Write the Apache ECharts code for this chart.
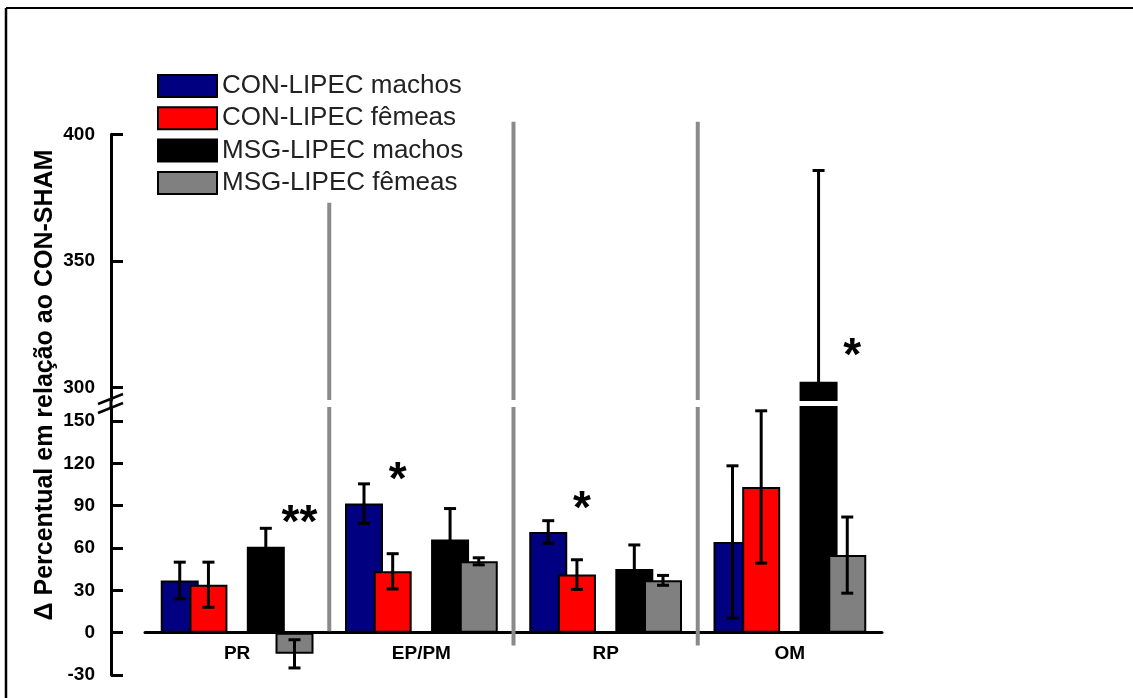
<!DOCTYPE html>
<html><head><meta charset="utf-8">
<script src="https://cdn.jsdelivr.net/npm/echarts@6/dist/echarts.min.js"></script>
<style>html,body{margin:0;padding:0;background:#fff}#c{width:1133px;height:698px}</style>
</head><body><div id="c"></div>
<script>
// ---- data ----
const categories = ['PR', 'EP/PM', 'RP', 'OM'];
const seriesNames = ['CON-LIPEC machos', 'CON-LIPEC fêmeas', 'MSG-LIPEC machos', 'MSG-LIPEC fêmeas'];
const conMachos = [37, 91.5, 71.4, 64.3];
const conMachosErr = [13, 14, 8, 54];
const conFemeas = [34, 43.5, 41.2, 103.3];
const conFemeasErr = [16, 12.5, 10.5, 54];
const msgMachos = [61, 66, 45.2, 302.2];
const msgMachosErr = [13, 22, 17, 83.5];
const msgFemeas = [-15, 50.6, 37.1, 55];
const msgFemeasErr = [10, 2.5, 3.5, 27];
const lowerTicks = [-30, 0, 30, 60, 90, 120, 150];
const upperTicks = [300, 350, 400];
const starCategory = ['PR', 'EP/PM', 'RP', 'OM'];
const starSeries = [3, 1, 1, 3];
const starValue = [83, 114, 93, 315.5];
const starText = ['**', '*', '*', '*'];
const sepTop = [373, 405, 405];     // upper-axis values
const sepBottom = [1, -9, -9];      // lower-axis values

// ---- layout / style ----
const LOWER_MIN = -30, LOWER_MAX = 160, UPPER_MIN = 295, UPPER_MAX = 400;
const BAR_W = 38, BAR_GAP = -0.245;
const PITCH = BAR_W * (1 + BAR_GAP);
const SLOT = [0, 1, 3, 4];
const colors = ['#000080', '#ff0000', '#000000', '#808080'];
const FONT = '"Liberation Sans", Arial, sans-serif';
const values = [conMachos, conFemeas, msgMachos, msgFemeas];
const errs = [conMachosErr, conFemeasErr, msgMachosErr, msgFemeasErr];

function slotOffset(s) { return (SLOT[s] - 2) * PITCH; }

const chart = echarts.init(document.getElementById('c'), null, {renderer: 'canvas'});

const grids = [
  {left: 145, right: 251, top: 407, bottom: 23, outerBoundsMode: 'none', containLabel: false},
  {left: 145, right: 251, top: 134.35, bottom: 298, outerBoundsMode: 'none', containLabel: false}
];

function yAxisDef(gi, min, max, ticks) {
  return {
    type: 'value', gridIndex: gi, min: min, max: max, offset: 34,
    axisLine: {show: true, onZero: false, lineStyle: {color: '#000', width: 3}},
    axisTick: {show: true, inside: true, length: 12, lineStyle: {color: '#000', width: 3}, customValues: ticks},
    axisLabel: {show: true, margin: 16, color: '#000', fontSize: 19, fontWeight: 'bold', fontFamily: FONT, customValues: ticks},
    splitLine: {show: false}
  };
}

const series = [];
for (let gi = 0; gi < 2; gi++) {
  const barSeq = [0, 1, -1, 2, 3];
  barSeq.forEach(function (s) {
    if (s < 0) {
      series.push({type: 'bar', xAxisIndex: gi, yAxisIndex: gi, barWidth: BAR_W, barGap: (BAR_GAP * 100) + '%',
        data: categories.map(function () { return '-'; }), silent: true});
    } else {
      series.push({
        type: 'bar', name: seriesNames[s], xAxisIndex: gi, yAxisIndex: gi,
        barWidth: BAR_W, barGap: (BAR_GAP * 100) + '%', clip: true,
        itemStyle: {color: colors[s], borderColor: '#000', borderWidth: 2},
        data: values[s]
      });
    }
  });
  // error bars
  const errData = [];
  for (let s = 0; s < 4; s++) for (let i = 0; i < categories.length; i++) errData.push([i, values[s][i], errs[s][i], s]);
  series.push({
    type: 'custom', xAxisIndex: gi, yAxisIndex: gi, clip: true, silent: true, z: 5,
    data: errData,
    renderItem: function (params, api) {
      const i = api.value(0), v = api.value(1), e = api.value(2), s = api.value(3);
      const c = api.coord([i, v]);
      const t = api.coord([i, v + e]);
      const b = api.coord([i, v - e]);
      const x = c[0] + slotOffset(s);
      const st = {stroke: '#000', lineWidth: 3};
      return {type: 'group', children: [
        {type: 'line', shape: {x1: x, y1: t[1], x2: x, y2: b[1]}, style: st},
        {type: 'line', shape: {x1: x - 6, y1: t[1], x2: x + 6, y2: t[1]}, style: st},
        {type: 'line', shape: {x1: x - 6, y1: b[1], x2: x + 6, y2: b[1]}, style: st}
      ]};
    }
  });
  // separators
  series.push({
    type: 'custom', xAxisIndex: gi, yAxisIndex: gi, silent: true, z: 1,
    data: sepTop.map(function (t, k) { return [k, sepBottom[k], t]; }),
    renderItem: function (params, api) {
      const k = api.value(0);
      const x = api.coord([k, 0])[0] + api.size([1, 0])[0] / 2;
      let y1, y2;
      if (gi === 0) { y1 = api.coord([k, api.value(1)])[1]; y2 = api.coord([k, LOWER_MAX])[1]; }
      else { y1 = api.coord([k, UPPER_MIN])[1]; y2 = api.coord([k, api.value(2)])[1]; }
      return {type: 'line', shape: {x1: x, y1: y1, x2: x, y2: y2}, style: {stroke: '#8a8a8a', lineWidth: 4}};
    }
  });
  // significance stars
  const starData = [];
  starValue.forEach(function (v, k) {
    const inLower = v <= LOWER_MAX;
    if ((gi === 0) === inLower) starData.push([categories.indexOf(starCategory[k]), v, starSeries[k], k]);
  });
  series.push({
    type: 'custom', xAxisIndex: gi, yAxisIndex: gi, silent: true, z: 6,
    data: starData,
    renderItem: function (params, api) {
      const c = api.coord([api.value(0), api.value(1)]);
      const x = c[0] + slotOffset(api.value(2)) + 5;
      return {type: 'text', style: {text: starText[api.value(3)], x: x, y: c[1] + 9,
        align: 'center', verticalAlign: 'middle', fill: '#000', font: 'bold 46px ' + FONT}};
    }
  });
}

const option = {
  animation: false,
  backgroundColor: '#fff',
  legend: {
    data: seriesNames, orient: 'vertical', left: 152, top: 68,
    itemWidth: 59, itemHeight: 22, itemGap: 6.3, icon: 'rect',
    textStyle: {fontSize: 26, color: '#222', fontFamily: FONT, lineHeight: 22},
    selectedMode: false
  },
  grid: grids,
  xAxis: [
    {type: 'category', gridIndex: 0, data: categories,
      axisLine: {show: true, onZero: true, lineStyle: {color: '#000', width: 3}},
      axisTick: {show: false},
      axisLabel: {margin: -31, color: '#000', fontSize: 19, fontWeight: 'bold', fontFamily: FONT},
      splitLine: {show: false}},
    {type: 'category', gridIndex: 1, data: categories, show: false}
  ],
  yAxis: [
    yAxisDef(0, LOWER_MIN, LOWER_MAX, lowerTicks),
    yAxisDef(1, UPPER_MIN, UPPER_MAX, upperTicks)
  ],
  graphic: [
    {type: 'line', shape: {x1: 6, y1: 8, x2: 1133, y2: 8}, style: {stroke: '#000', lineWidth: 2}},
    {type: 'line', shape: {x1: 6, y1: 8, x2: 6, y2: 698}, style: {stroke: '#000', lineWidth: 2.5}},
    {type: 'line', shape: {x1: 111, y1: 399, x2: 111, y2: 408}, style: {stroke: '#000', lineWidth: 3}},
    {type: 'line', shape: {x1: 98, y1: 404, x2: 123, y2: 394}, style: {stroke: '#000', lineWidth: 2.5}},
    {type: 'line', shape: {x1: 98, y1: 413, x2: 123, y2: 403}, style: {stroke: '#000', lineWidth: 2.5}},
    {type: 'text', x: 45, y: 385, rotation: Math.PI / 2,
      style: {text: 'Δ Percentual em relação ao CON-SHAM', align: 'center', verticalAlign: 'middle',
        fill: '#000', font: 'bold 25px ' + FONT}}
  ],
  series: series
};
chart.setOption(option);
</script>
</body></html>
